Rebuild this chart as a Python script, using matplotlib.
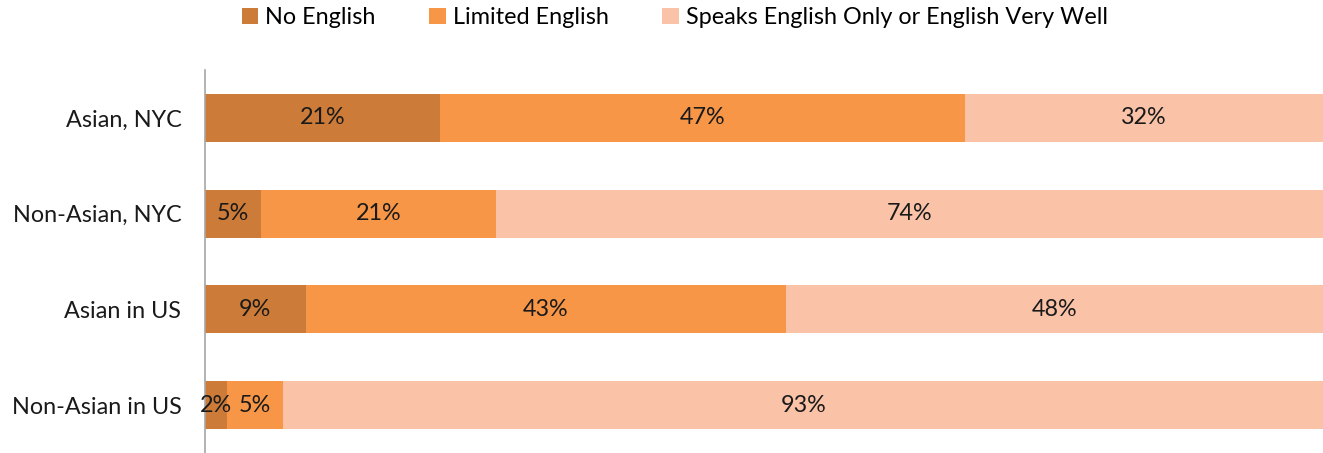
import matplotlib
matplotlib.use("Agg")
import matplotlib.pyplot as plt
import numpy as np

categories = ["Asian, NYC", "Non-Asian, NYC", "Asian in US", "Non-Asian in US"]
series_names = ["No English", "Limited English", "Speaks English Only or English Very Well"]
no_english = [21, 5, 9, 2]
limited = [47, 21, 43, 5]
speaks = [32, 74, 48, 93]
colors = ["#CD7B38", "#F79646", "#FAC3A8"]

plt.rcParams['font.family'] = ['Lato', 'DejaVu Sans']
FS = 16.8

fig = plt.figure(figsize=(13.23, 4.53), dpi=100)
ax = fig.add_axes([205/1323, 0, 1 - 205/1323, (453-70)/453])

y = np.arange(len(categories))
left = np.zeros(len(categories))
for vals, name, col in zip([no_english, limited, speaks], series_names, colors):
    vals = np.array(vals, dtype=float)
    ax.barh(y, vals, left=left, height=0.5, color=col, label=name)
    for yi, l, v in zip(y, left, vals):
        ax.text(l + v/2, yi, f"{int(v)}%", ha="center", va="center", fontsize=FS, color="#1a1a1a")
    left += vals

ax.set_xlim(0, 100)
ax.set_ylim(3.5, -0.5)
ax.set_yticks(y)
ax.set_yticklabels(categories, fontsize=FS, color="#1a1a1a")
ax.tick_params(axis='y', length=0, pad=17)
ax.set_xticks([])
for s in ["top", "right", "bottom"]:
    ax.spines[s].set_visible(False)
ax.spines["left"].set_color("#A6A6A6")
ax.spines["left"].set_linewidth(1.2)

fig.legend(loc="upper center", bbox_to_anchor=(0.51, 1.03), ncol=3, frameon=False,
           fontsize=FS, handlelength=0.7, handleheight=0.7, handletextpad=0.3, columnspacing=2.3)

fig.savefig("out.png", dpi=100)
